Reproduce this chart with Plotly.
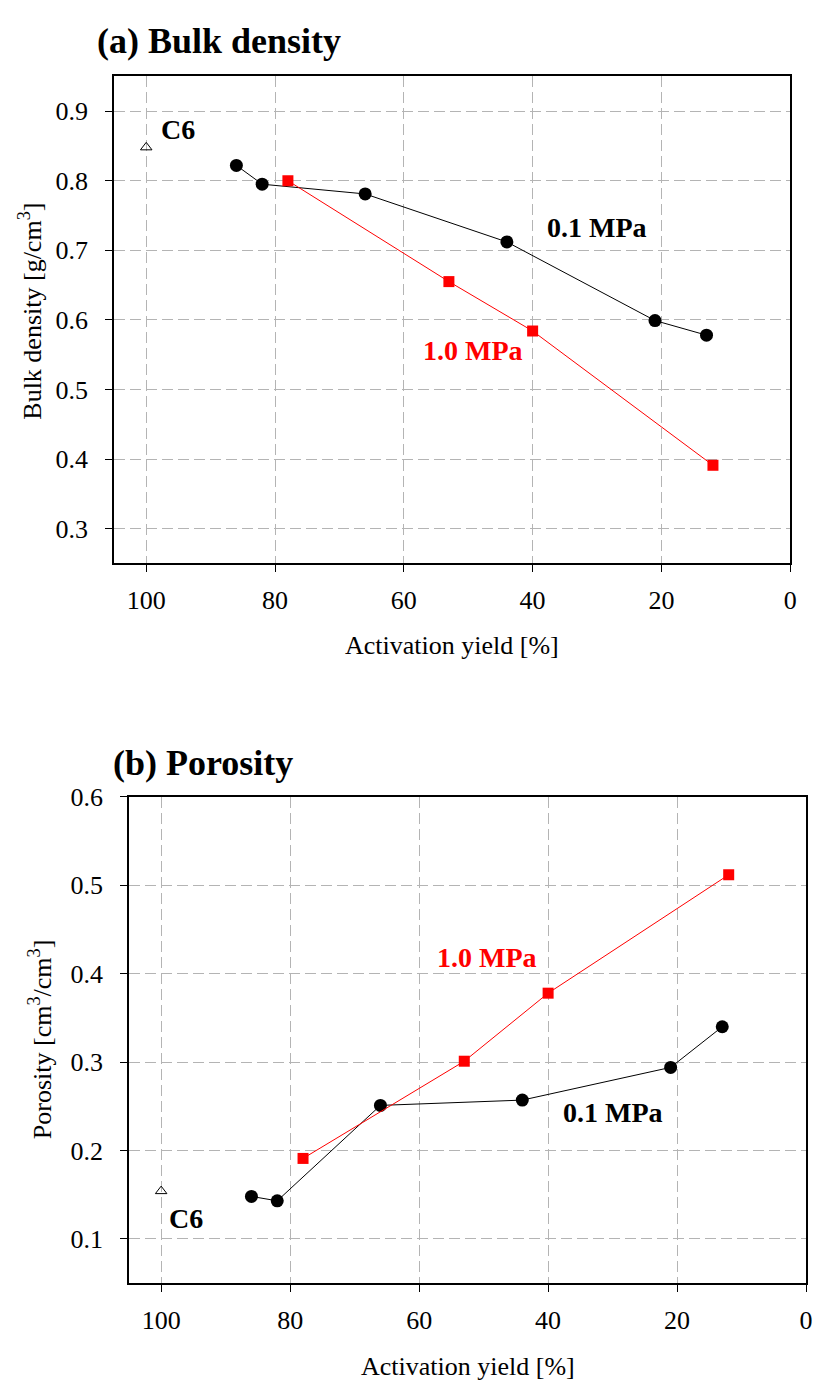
import plotly.graph_objects as go

# ---------------- data ----------------
yield_01 = [86, 82, 66, 44, 21, 13]
yield_10 = [78, 53, 40, 12]
yield_c6 = [100]

bulk_01 = [0.822, 0.795, 0.781, 0.712, 0.599, 0.578]
bulk_10 = [0.800, 0.655, 0.584, 0.391]
bulk_c6 = [0.848]

poro_01 = [0.148, 0.143, 0.251, 0.257, 0.294, 0.340]
poro_10 = [0.191, 0.301, 0.378, 0.512]
poro_c6 = [0.154]

x_ticks = [100, 80, 60, 40, 20, 0]
bulk_ticks = [0.3, 0.4, 0.5, 0.6, 0.7, 0.8, 0.9]
poro_ticks = [0.1, 0.2, 0.3, 0.4, 0.5, 0.6]

W, H = 824, 1383
FONT = "Liberation Serif, Times New Roman, serif"
RED = "#ff0000"

fig = go.Figure()

def add_panel(xa, ya, y01, y10, yc6):
    fig.add_trace(go.Scatter(x=yield_01, y=y01, mode="lines+markers", xaxis=xa, yaxis=ya,
                             line=dict(color="black", width=1),
                             marker=dict(symbol="circle", size=13, color="black"),
                             showlegend=False))
    fig.add_trace(go.Scatter(x=yield_10, y=y10, mode="lines+markers", xaxis=xa, yaxis=ya,
                             line=dict(color=RED, width=1),
                             marker=dict(symbol="square", size=11, color=RED),
                             showlegend=False))
    fig.add_trace(go.Scatter(x=yield_c6, y=yc6, mode="markers", xaxis=xa, yaxis=ya,
                             marker=dict(symbol="triangle-up-open", size=10, color="black",
                                         line=dict(width=1, color="black")),
                             showlegend=False))

add_panel("x", "y", bulk_01, bulk_10, bulk_c6)
add_panel("x2", "y2", poro_01, poro_10, poro_c6)

def px_x(p):
    return p / W

def px_y(p):
    return 1 - p / H

grid = dict(showgrid=True, gridcolor="#b4b4b4", griddash="11px,5px", gridwidth=1,
            showline=True, linecolor="black", linewidth=1.5, mirror=True,
            ticks="outside", ticklen=7, tickwidth=1.2, tickcolor="black",
            zeroline=False, tickfont=dict(family=FONT, size=26, color="black"))

xcommon = dict(grid, range=[105, 0], tickvals=x_ticks, ticktext=[str(v) for v in x_ticks],
               ticklabelstandoff=6)

fig.update_layout(
    width=W, height=H,
    margin=dict(l=0, r=0, t=0, b=0),
    paper_bgcolor="white", plot_bgcolor="white",
    font=dict(family=FONT, color="black"),
    xaxis=dict(xcommon, domain=[px_x(115), px_x(797)], anchor="y"),
    yaxis=dict(grid, domain=[px_y(555), px_y(63)], anchor="x", range=[0.25, 0.95],
               tickvals=bulk_ticks, ticktext=[f"{v:.1f}" for v in bulk_ticks],
               ticklabelstandoff=12),
    xaxis2=dict(xcommon, domain=[px_x(130), px_x(813)], anchor="y2"),
    yaxis2=dict(grid, domain=[px_y(1282), px_y(791)], anchor="x2", range=[0.05, 0.6],
                tickvals=poro_ticks, ticktext=[f"{v:.1f}" for v in poro_ticks],
                ticklabelstandoff=12),
)

ann = []
# panel titles
ann.append(dict(text="<b>(a) Bulk density</b>", xref="paper", yref="paper",
                x=px_x(96), y=px_y(27), xanchor="left", yanchor="middle",
                showarrow=False, font=dict(family=FONT, size=36, color="black")))
ann.append(dict(text="<b>(b) Porosity</b>", xref="paper", yref="paper",
                x=px_x(112), y=px_y(757), xanchor="left", yanchor="middle",
                showarrow=False, font=dict(family=FONT, size=36, color="black")))
# axis titles
ann.append(dict(text="Activation yield [%]", xref="paper", yref="paper",
                x=px_x(456), y=px_y(638), xanchor="center", yanchor="middle",
                showarrow=False, font=dict(family=FONT, size=26, color="black")))
ann.append(dict(text="Activation yield [%]", xref="paper", yref="paper",
                x=px_x(472), y=px_y(1366), xanchor="center", yanchor="middle",
                showarrow=False, font=dict(family=FONT, size=26, color="black")))
ann.append(dict(text="Bulk density [g/cm<sup>3</sup>]", xref="paper", yref="paper",
                x=px_x(31), y=px_y(300), xanchor="center", yanchor="middle", textangle=-90,
                showarrow=False, font=dict(family=FONT, size=26, color="black")))
ann.append(dict(text="Porosity [cm<sup>3</sup>/cm<sup>3</sup>]", xref="paper", yref="paper",
                x=px_x(41), y=px_y(1036), xanchor="center", yanchor="middle", textangle=-90,
                showarrow=False, font=dict(family=FONT, size=26, color="black")))
# in-plot labels
def lab(text, xr, yr, x, y, color="black"):
    ann.append(dict(text=f"<b>{text}</b>", xref=xr, yref=yr, x=x, y=y,
                    xanchor="center", yanchor="middle", showarrow=False,
                    font=dict(family=FONT, size=28, color=color)))

lab("C6", "x", "y", 95.1, 0.874)
lab("0.1 MPa", "x", "y", 30.0, 0.733)
lab("1.0 MPa", "x", "y", 49.2, 0.556, RED)
lab("C6", "x2", "y2", 96.2, 0.123)
lab("0.1 MPa", "x2", "y2", 29.9, 0.243)
lab("1.0 MPa", "x2", "y2", 49.4, 0.418, RED)

fig.update_layout(annotations=ann)

fig.write_html("out.html")
